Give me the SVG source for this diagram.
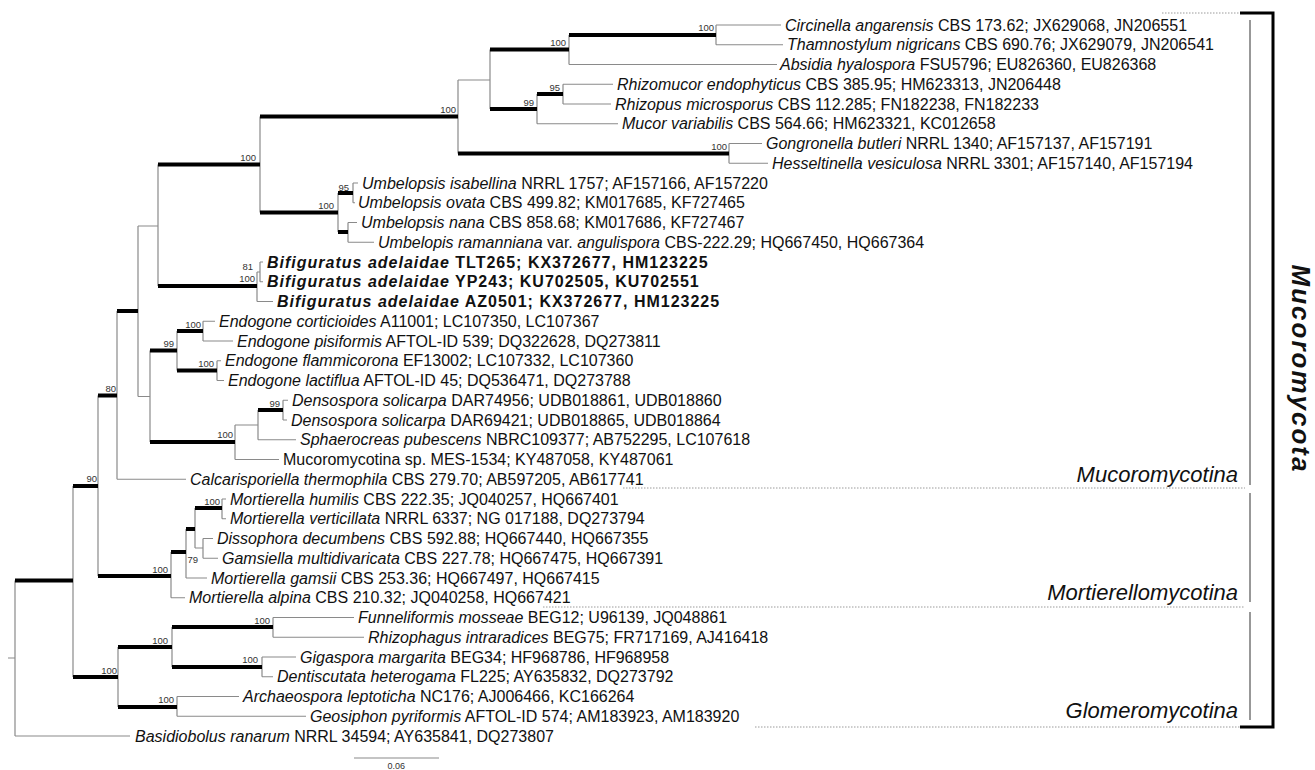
<svg xmlns="http://www.w3.org/2000/svg" width="1315" height="770" viewBox="0 0 1315 770">
<style>
.thin{fill:none;stroke:#8a8a8a;stroke-width:1.2}
.thick{fill:none;stroke:#000;stroke-width:4;stroke-linecap:butt}
.dot{fill:none;stroke:#9a9a9a;stroke-width:1;stroke-dasharray:1.5 1.5}
.brk{fill:none;stroke:#000;stroke-width:3}
.gb{fill:none;stroke:#777;stroke-width:1.5}
.lf{font-family:"Liberation Sans",Arial,sans-serif;font-size:16px;fill:#111}
.lf .i{font-style:italic}
.bd{font-weight:bold;letter-spacing:1px}
.bs{font-family:"Liberation Sans",Arial,sans-serif;font-size:9.5px;fill:#333;text-anchor:end}
.cl{font-family:"Liberation Sans",Arial,sans-serif;font-size:22px;font-style:italic;fill:#111;text-anchor:end}
</style>
<rect width="1315" height="770" fill="#fff"/>
<g id="connectors">
<path class="thin" d="M8,658H15 M15,580.5V736 M15,736H130
M73,486V677 M98,395.5V576 M117,311V479.25 M117,479.25H186
M138,226V396.5 M138,226H158 M138,396.5H150 M158,164.5V286
M260,116.5V212.5 M458,80V153.5 M458,80H490 M490,49.5V109
M569,35V64.5 M569,64.5H777 M716,25V44.75 M716,25H781 M716,44.75H783
M537,94V123.75 M537,123.75H618 M563,84.25V104 M563,84.25H613 M563,104H611
M729,143.5V163.25 M729,143.5H762 M729,163.25H768
M338,193V232 M353,183V202.75 M353,183H358 M353,202.75H355
M348,222.5V242.25 M348,222.5H357 M348,242.25H374
M257,272V301.5 M257,272H260 M257,301.5H273 M260,262V281.75 M260,262H263 M260,281.75H263
M150,350.5V442 M177,331V370.5 M203,321.25V341 M203,321.25H215 M203,341H233
M217,360.75V380.5 M217,360.75H221 M217,380.5H224
M235,425V459.5 M235,425H258 M235,459.5H279 M258,410V439.75 M258,439.75H296
M283,400.25V420 M283,400.25H288 M283,420H287
M171,552V597.75 M171,597.75H185 M186,529V578 M186,578H207 M195,508V548 M195,548H203
M222,499V518.75 M222,499H226 M222,518.75H226 M203,538.5V558.25 M203,538.5H213 M203,558.25H218
M118,647V707 M172,627V667 M273,617.5V637.25 M273,617.5H354 M273,637.25H364
M262,657V676.75 M262,657H296 M262,676.75H273
M177,696.5V716.25 M177,696.5H239 M177,716.25H306"/>
<path class="thick" d="M15,580.5H73 M73,486H98 M73,677H118 M98,395.5H117 M98,576H171 M117,311H138
M158,164.5H260 M158,286H257 M260,116.5H458 M260,212.5H338 M458,153.5H729
M490,49.5H569 M490,109H537 M569,35H716 M537,94H563 M338,193H353 M338,232H348
M150,350.5H177 M150,442H235 M177,331H203 M177,370.5H217 M258,410H283
M171,552H186 M186,529H195 M195,508H222
M118,647H172 M118,707H177 M172,627H273 M172,667H262"/>
<path class="thin" d="M354,758H439"/>
</g>
<g id="bootstrap">
<text class="bs" x="714" y="31">100</text>
<text class="bs" x="566" y="46">100</text>
<text class="bs" x="456" y="113">100</text>
<text class="bs" x="534" y="106">99</text>
<text class="bs" x="560" y="91">95</text>
<text class="bs" x="727" y="150">100</text>
<text class="bs" x="256" y="161">100</text>
<text class="bs" x="334" y="209">100</text>
<text class="bs" x="349" y="191">95</text>
<text class="bs" x="253" y="270">81</text>
<text class="bs" x="255" y="282">100</text>
<text class="bs" x="174" y="347">99</text>
<text class="bs" x="201" y="328">100</text>
<text class="bs" x="214" y="367">100</text>
<text class="bs" x="280" y="407">99</text>
<text class="bs" x="233" y="438">100</text>
<text class="bs" x="116" y="392">80</text>
<text class="bs" x="97" y="482">90</text>
<text class="bs" x="220" y="505">100</text>
<text class="bs" x="198" y="563">79</text>
<text class="bs" x="168" y="573">100</text>
<text class="bs" x="117" y="674">100</text>
<text class="bs" x="168" y="644">100</text>
<text class="bs" x="174" y="703">100</text>
<text class="bs" x="270" y="624">100</text>
<text class="bs" x="258" y="663">100</text>
<text class="bs" x="405" y="769" style="font-size:9px">0.06</text>
</g>
<g id="leaves">
<g id="n0"><text class="lf" x="785" y="30.5"><tspan class="i">Circinella angarensis</tspan> CBS 173.62; JX629068, JN206551</text></g>
<g id="n1"><text class="lf" x="787" y="50.3"><tspan class="i">Thamnostylum nigricans</tspan> CBS 690.76; JX629079, JN206541</text></g>
<g id="n2"><text class="lf" x="780" y="70"><tspan class="i">Absidia hyalospora</tspan> FSU5796; EU826360, EU826368</text></g>
<g id="n3"><text class="lf" x="617" y="89.8"><tspan class="i">Rhizomucor endophyticus</tspan> CBS 385.95; HM623313, JN206448</text></g>
<g id="n4"><text class="lf" x="615" y="109.5"><tspan class="i">Rhizopus microsporus</tspan> CBS 112.285; FN182238, FN182233</text></g>
<g id="n5"><text class="lf" x="622" y="129.3"><tspan class="i">Mucor variabilis</tspan> CBS 564.66; HM623321, KC012658</text></g>
<g id="n6"><text class="lf" x="766" y="149"><tspan class="i">Gongronella butleri</tspan> NRRL 1340; AF157137, AF157191</text></g>
<g id="n7"><text class="lf" x="772" y="168.8"><tspan class="i">Hesseltinella vesiculosa</tspan> NRRL 3301; AF157140, AF157194</text></g>
<g id="n8"><text class="lf" x="362" y="188.5"><tspan class="i">Umbelopsis isabellina</tspan> NRRL 1757; AF157166, AF157220</text></g>
<g id="n9"><text class="lf" x="358" y="208.3"><tspan class="i">Umbelopsis ovata</tspan> CBS 499.82; KM017685, KF727465</text></g>
<g id="n10"><text class="lf" x="361" y="228"><tspan class="i">Umbelopsis nana</tspan> CBS 858.68; KM017686, KF727467</text></g>
<g id="n11"><text class="lf" x="378" y="247.8"><tspan class="i">Umbelopis ramanniana</tspan> var. <tspan class="i">angulispora</tspan> CBS-222.29; HQ667450, HQ667364</text></g>
<g id="n12"><text class="lf bd" x="267" y="267.5"><tspan class="i">Bifiguratus adelaidae</tspan> TLT265; KX372677, HM123225</text></g>
<g id="n13"><text class="lf bd" x="267" y="287.3"><tspan class="i">Bifiguratus adelaidae</tspan> YP243; KU702505, KU702551</text></g>
<g id="n14"><text class="lf bd" x="277" y="307"><tspan class="i">Bifiguratus adelaidae</tspan> AZ0501; KX372677, HM123225</text></g>
<g id="n15"><text class="lf" x="219" y="326.8"><tspan class="i">Endogone corticioides</tspan> A11001; LC107350, LC107367</text></g>
<g id="n16"><text class="lf" x="237" y="346.5"><tspan class="i">Endogone pisiformis</tspan> AFTOL-ID 539; DQ322628, DQ273811</text></g>
<g id="n17"><text class="lf" x="225" y="366.3"><tspan class="i">Endogone flammicorona</tspan> EF13002; LC107332, LC107360</text></g>
<g id="n18"><text class="lf" x="228" y="386"><tspan class="i">Endogone lactiflua</tspan> AFTOL-ID 45; DQ536471, DQ273788</text></g>
<g id="n19"><text class="lf" x="292" y="405.8"><tspan class="i">Densospora solicarpa</tspan> DAR74956; UDB018861, UDB018860</text></g>
<g id="n20"><text class="lf" x="291" y="425.5"><tspan class="i">Densospora solicarpa</tspan> DAR69421; UDB018865, UDB018864</text></g>
<g id="n21"><text class="lf" x="300" y="445.3"><tspan class="i">Sphaerocreas pubescens</tspan> NBRC109377; AB752295, LC107618</text></g>
<g id="n22"><text class="lf" x="283" y="465">Mucoromycotina sp. MES-1534; KY487058, KY487061</text></g>
<g id="n23"><text class="lf" x="190" y="484.8"><tspan class="i">Calcarisporiella thermophila</tspan> CBS 279.70; AB597205, AB617741</text></g>
<g id="n24"><text class="lf" x="230" y="504.5"><tspan class="i">Mortierella humilis</tspan> CBS 222.35; JQ040257, HQ667401</text></g>
<g id="n25"><text class="lf" x="230" y="524.3"><tspan class="i">Mortierella verticillata</tspan> NRRL 6337; NG 017188, DQ273794</text></g>
<g id="n26"><text class="lf" x="217" y="544"><tspan class="i">Dissophora decumbens</tspan> CBS 592.88; HQ667440, HQ667355</text></g>
<g id="n27"><text class="lf" x="222" y="563.8"><tspan class="i">Gamsiella multidivaricata</tspan> CBS 227.78; HQ667475, HQ667391</text></g>
<g id="n28"><text class="lf" x="211" y="583.5"><tspan class="i">Mortierella gamsii</tspan> CBS 253.36; HQ667497, HQ667415</text></g>
<g id="n29"><text class="lf" x="189" y="603.3"><tspan class="i">Mortierella alpina</tspan> CBS 210.32; JQ040258, HQ667421</text></g>
<g id="n30"><text class="lf" x="358" y="623"><tspan class="i">Funneliformis mosseae</tspan> BEG12; U96139, JQ048861</text></g>
<g id="n31"><text class="lf" x="368" y="642.8"><tspan class="i">Rhizophagus intraradices</tspan> BEG75; FR717169, AJ416418</text></g>
<g id="n32"><text class="lf" x="300" y="662.5"><tspan class="i">Gigaspora margarita</tspan> BEG34; HF968786, HF968958</text></g>
<g id="n33"><text class="lf" x="277" y="682.3"><tspan class="i">Dentiscutata heterogama</tspan> FL225; AY635832, DQ273792</text></g>
<g id="n34"><text class="lf" x="243" y="702"><tspan class="i">Archaeospora leptoticha</tspan> NC176; AJ006466, KC166264</text></g>
<g id="n35"><text class="lf" x="310" y="721.8"><tspan class="i">Geosiphon pyriformis</tspan> AFTOL-ID 574; AM183923, AM183920</text></g>
<g id="n36"><text class="lf" x="135" y="741.5"><tspan class="i">Basidiobolus ranarum</tspan> NRRL 34594; AY635841, DQ273807</text></g>
</g>
<g id="clades">
<path class="dot" d="M1162,13H1240 M623,488H1245 M543,607H1245 M755,727H1240"/>
<path class="gb" d="M1250,20V485 M1250,493V602 M1250,612V720"/>
<path class="brk" d="M1240,13H1273V727H1240"/>
<text class="cl" x="1238" y="482">Mucoromycotina</text>
<text class="cl" x="1238" y="600">Mortierellomycotina</text>
<text class="cl" x="1238" y="718">Glomeromycotina</text>
<text transform="translate(1292,369) rotate(90)" text-anchor="middle" style="font-family:'Liberation Sans',Arial,sans-serif;font-size:26px;font-weight:bold;font-style:italic;letter-spacing:2px;fill:#111">Mucoromycota</text>
</g>
</svg>
